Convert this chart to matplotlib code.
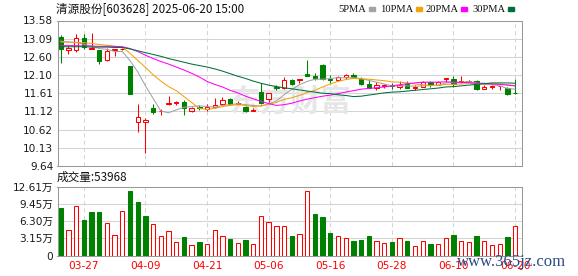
import matplotlib
matplotlib.use("Agg")
import matplotlib.pyplot as plt
import numpy as np
from matplotlib.patches import Rectangle


TITLE = "清源股份[603628] 2025-06-20 15:00"

DATES = [
    "03-24", "03-25", "03-26", "03-27", "03-28", "03-31",
    "04-01", "04-02", "04-03", "04-07", "04-08", "04-09", "04-10", "04-11",
    "04-14", "04-15", "04-16", "04-17", "04-18", "04-21", "04-22", "04-23",
    "04-24", "04-25", "04-28", "04-29", "04-30",
    "05-06", "05-07", "05-08", "05-09", "05-12", "05-13", "05-14", "05-15",
    "05-16", "05-19", "05-20", "05-21", "05-22", "05-23", "05-26", "05-27",
    "05-28", "05-29", "05-30",
    "06-03", "06-04", "06-05", "06-06", "06-09", "06-10", "06-11", "06-12",
    "06-13", "06-16", "06-17", "06-18", "06-19", "06-20",
]

OPEN = [
    13.12, 12.77, 12.77, 13.10, 12.82, 12.78, 12.50, 12.77, 12.81, 12.35,
    10.82, 10.83, 11.21, 11.12, 11.32, 11.35, 11.38, 11.13, 11.24, 11.19,
    11.23, 11.32, 11.46, 11.33, 11.25, 11.13, 11.64, 11.46, 11.77, 11.75,
    11.97, 11.97, 12.12, 12.09, 12.38, 11.99, 11.97, 12.06, 12.11, 12.00,
    11.86, 11.75, 11.81, 11.84, 11.78, 11.86, 11.75, 11.79, 11.91, 11.84,
    11.99, 12.00, 11.91, 11.94, 11.94, 11.73, 11.79, 11.80, 11.75, 11.62,
]
HIGH = [
    13.19, 12.90, 13.22, 13.21, 13.24, 12.79, 12.83, 12.81, 12.84, 12.36,
    11.32, 10.93, 11.33, 11.19, 11.54, 11.41, 11.42, 11.25, 11.30, 11.33,
    11.48, 11.50, 11.47, 11.40, 11.26, 11.20, 11.88, 11.62, 11.84, 12.04,
    11.99, 12.00, 12.51, 12.15, 12.40, 12.10, 12.09, 12.12, 12.15, 12.06,
    11.97, 11.91, 11.86, 11.88, 11.93, 11.93, 11.84, 11.95, 11.95, 11.95,
    12.02, 12.09, 12.09, 11.97, 11.97, 11.84, 11.84, 11.81, 11.79, 12.00,
]
LOW = [
    12.44, 12.68, 12.72, 12.80, 12.81, 12.40, 12.48, 12.63, 12.78, 11.58,
    10.57, 9.99, 11.05, 11.01, 11.29, 11.29, 11.03, 11.09, 11.16, 11.14,
    11.21, 11.30, 11.31, 11.32, 11.11, 11.12, 11.33, 11.38, 11.70, 11.73,
    11.84, 11.90, 12.07, 11.97, 11.98, 11.88, 11.93, 11.99, 12.02, 11.84,
    11.75, 11.70, 11.75, 11.73, 11.73, 11.74, 11.70, 11.78, 11.79, 11.83,
    11.91, 11.77, 11.90, 11.91, 11.70, 11.72, 11.73, 11.70, 11.57, 11.60,
]
CLOSE = [
    12.80, 12.83, 13.10, 12.85, 12.84, 12.47, 12.76, 12.80, 12.82, 11.59,
    10.97, 10.88, 11.10, 11.13, 11.34, 11.37, 11.20, 11.22, 11.21, 11.23,
    11.30, 11.43, 11.32, 11.35, 11.12, 11.16, 11.35, 11.61, 11.75, 11.97,
    11.86, 11.99, 12.09, 12.02, 11.99, 11.97, 12.06, 12.10, 12.04, 11.86,
    11.75, 11.82, 11.84, 11.80, 11.84, 11.75, 11.77, 11.91, 11.82, 11.91,
    12.02, 11.86, 11.93, 11.94, 11.72, 11.79, 11.80, 11.81, 11.60, 11.61,
]
PREV_CLOSE = 13.33

# volume in lots (手)
VOLUME = [
    86700, 47400, 89800, 64600, 79300, 79300, 60300, 38100, 80600, 118100,
    97800, 72000, 57200, 36300, 45500, 25200, 33200, 19700, 24000, 21500,
    47400, 36300, 29500, 23400, 27700, 21500, 71300, 62100, 54700, 54700,
    35100, 40000, 117500, 75600, 70100, 40600, 36300, 32600, 25800, 27700,
    35100, 27100, 22100, 24000, 32600, 25800, 17800, 27100, 20300, 21500,
    32600, 36900, 27100, 25200, 35100, 27100, 19700, 21500, 33200, 53968,
]

MA5 = [
    13.02, 13.00, 12.98, 12.94, 12.88, 12.82, 12.80, 12.74, 12.74, 12.49,
    12.19, 11.81, 11.47, 11.13, 11.08, 11.16, 11.23, 11.25, 11.27, 11.25,
    11.23, 11.28, 11.30, 11.33, 11.30, 11.28, 11.26, 11.32, 11.40, 11.57,
    11.71, 11.84, 11.93, 11.99, 11.99, 12.01, 12.03, 12.03, 12.03, 12.01,
    11.96, 11.91, 11.86, 11.81, 11.81, 11.81, 11.80, 11.81, 11.82, 11.83,
    11.89, 11.90, 11.91, 11.93, 11.89, 11.85, 11.84, 11.81, 11.74, 11.72,
]
MA10 = [
    13.00, 12.99, 12.99, 12.98, 12.96, 12.93, 12.91, 12.88, 12.86, 12.69,
    12.50, 12.31, 12.11, 11.94, 11.79, 11.68, 11.52, 11.36, 11.20, 11.17,
    11.20, 11.25, 11.28, 11.30, 11.28, 11.25, 11.27, 11.31, 11.36, 11.44,
    11.49, 11.55, 11.63, 11.69, 11.78, 11.86, 11.93, 11.98, 12.01, 12.00,
    11.99, 11.97, 11.95, 11.92, 11.91, 11.89, 11.86, 11.84, 11.82, 11.82,
    11.85, 11.85, 11.86, 11.88, 11.86, 11.87, 11.87, 11.86, 11.84, 11.81,
]
MA20 = [
    12.90, 12.90, 12.90, 12.89, 12.89, 12.88, 12.88, 12.88, 12.87, 12.82,
    12.74, 12.64, 12.55, 12.47, 12.40, 12.32, 12.24, 12.15, 12.05, 11.93,
    11.85, 11.78, 11.69, 11.62, 11.53, 11.46, 11.39, 11.33, 11.28, 11.30,
    11.34, 11.40, 11.45, 11.49, 11.53, 11.56, 11.60, 11.64, 11.68, 11.72,
    11.74, 11.76, 11.78, 11.81, 11.84, 11.87, 11.89, 11.91, 11.91, 11.91,
    11.92, 11.91, 11.90, 11.90, 11.88, 11.88, 11.86, 11.85, 11.83, 11.81,
]
MA30 = [
    12.87, 12.87, 12.87, 12.87, 12.86, 12.86, 12.86, 12.85, 12.85, 12.81,
    12.76, 12.71, 12.66, 12.61, 12.55, 12.50, 12.45, 12.40, 12.36, 12.32,
    12.27, 12.21, 12.14, 12.07, 12.01, 11.94, 11.88, 11.83, 11.79, 11.76,
    11.73, 11.70, 11.67, 11.64, 11.61, 11.60, 11.57, 11.55, 11.52, 11.53,
    11.56, 11.59, 11.62, 11.64, 11.65, 11.67, 11.69, 11.71, 11.73, 11.75,
    11.78, 11.79, 11.81, 11.83, 11.85, 11.87, 11.89, 11.89, 11.89, 11.88,
]

PRICE_TICKS = [9.64, 10.13, 10.62, 11.12, 11.61, 12.10, 12.60, 13.09, 13.58]
VOLUME_TICKS = [0, 3.15, 6.30, 9.45, 12.61]  # 万手

RED = "#ff0000"
GREEN = "#008000"
GRID = "#d4d4d4"
FRAME = "#999999"
TEXT = "#1a1a1a"
LW = 0.75
W, H = 578, 276

MA_LINES = [
    ("5PMA", MA5, "#a3a3a3"),
    ("10PMA", MA10, "#f0a30a"),
    ("20PMA", MA20, "#ff00ff"),
    ("30PMA", MA30, "#00703a"),
]

plt.rcParams["font.family"] = ["DejaVu Sans", "Noto Sans CJK SC"]


def px_box(left, top, right, bottom):
    return [left / W, 1 - bottom / H, (right - left) / W, (bottom - top) / H]


def style_axes(ax, label_idx):
    for spine in ax.spines.values():
        spine.set_color(FRAME)
        spine.set_linewidth(LW)
    ax.set_xlim(-0.42, len(CLOSE) - 0.1)
    ax.set_xticks(label_idx)
    ax.grid(axis="y", color=GRID, linewidth=LW, linestyle="-")
    ax.grid(axis="x", color=GRID, linewidth=LW, linestyle=(0, (4, 3)))
    ax.set_axisbelow(True)
    ax.tick_params(length=0, labelsize=7.6, colors=TEXT, pad=3)


def draw_candles(ax, x):
    o, h, l, c = (np.array(v) for v in (OPEN, HIGH, LOW, CLOSE))
    up, down, flat = c > o, c < o, c == o
    top, bottom = np.maximum(o, c), np.minimum(o, c)
    colors = np.where(up, RED, np.where(down, GREEN, "#000000"))
    ax.vlines(x, top, h, colors=colors, linewidth=LW, zorder=3)
    ax.vlines(x, l, bottom, colors=colors, linewidth=LW, zorder=3)
    ax.bar(x[up], (c - o)[up], bottom=o[up], width=0.56, facecolor="white",
           edgecolor=RED, linewidth=LW, zorder=3)
    ax.bar(x[down], (o - c)[down], bottom=c[down], width=0.56, color=GREEN,
           edgecolor=GREEN, linewidth=LW, zorder=3)
    ax.hlines(c[flat], x[flat] - 0.32, x[flat] + 0.32, colors="#000000",
              linewidth=LW, zorder=3)


def main():
    x = np.arange(len(CLOSE))
    label_idx = list(range(3, len(DATES), 8))

    fig = plt.figure(figsize=(W / 100, H / 100), dpi=100)
    ax_p = fig.add_axes(px_box(57.5, 20.5, 522, 166))
    ax_v = fig.add_axes(px_box(57.5, 186.5, 522, 255.5))

    # price panel
    style_axes(ax_p, label_idx)
    ax_p.set_ylim(PRICE_TICKS[0], PRICE_TICKS[-1])
    ax_p.set_yticks(PRICE_TICKS)
    ax_p.set_yticklabels([f"{t:.2f}" for t in PRICE_TICKS])
    ax_p.set_xticklabels([])
    ax_p.text(0.50, 0.44, "东方财富", transform=ax_p.transAxes, ha="center",
              va="center", fontsize=22, fontweight="bold", color="#e6e6e6",
              family=["Noto Sans CJK SC"], zorder=1)
    draw_candles(ax_p, x)
    for _, values, color in MA_LINES:
        ax_p.plot(x, values, color=color, linewidth=LW, zorder=4)

    # volume panel
    style_axes(ax_v, label_idx)
    close = np.array(CLOSE)
    prev = np.concatenate([[PREV_CLOSE], close[:-1]])
    vol = np.array(VOLUME) / 1e4
    rising = close >= prev
    ax_v.bar(x[rising], vol[rising], width=0.56, facecolor="white",
             edgecolor=RED, linewidth=LW, zorder=3)
    ax_v.bar(x[~rising], vol[~rising], width=0.56, color=GREEN,
             edgecolor=GREEN, linewidth=LW, zorder=3)
    ax_v.set_ylim(0, VOLUME_TICKS[-1])
    ax_v.set_yticks(VOLUME_TICKS)
    ax_v.set_yticklabels([f"{t:.2f}万" if t else "0" for t in VOLUME_TICKS])
    ax_v.set_xticklabels([DATES[i] for i in label_idx], color=RED)
    ax_v.tick_params(axis="x", pad=4)

    # header texts
    fig.text(56 / W, 1 - 9 / H, TITLE, ha="left", va="center", fontsize=8.4,
             color="#111111", family=["Noto Sans CJK SC", "DejaVu Sans"])
    fig.text(57 / W, 1 - 177 / H, f"成交量:{VOLUME[-1]}", ha="left", va="center",
             fontsize=8.4, color="#111111", family=["Noto Sans CJK SC", "DejaVu Sans"])

    legend_x = [338, 380, 425, 472]
    for (name, _, color), lx in zip(MA_LINES, legend_x):
        t = fig.text(lx / W, 1 - 9.5 / H, name, ha="left", va="center",
                     fontsize=7.6, color="#111111", family=["Liberation Serif"])
        fig.canvas.draw()
        ext = t.get_window_extent()
        fig.patches.append(Rectangle(((ext.x1 + 3) / W, 1 - 10.8 / H), 6 / W, 3.8 / H,
                                     transform=fig.transFigure, color=color))

    fig.text(457 / W, 1 - 262 / H, "www.365jz.com", ha="left", va="center",
             fontsize=12, color="#2b4b88", family=["Liberation Serif"])

    fig.savefig("out.png", dpi=100)
    plt.close(fig)


if __name__ == "__main__":
    main()
